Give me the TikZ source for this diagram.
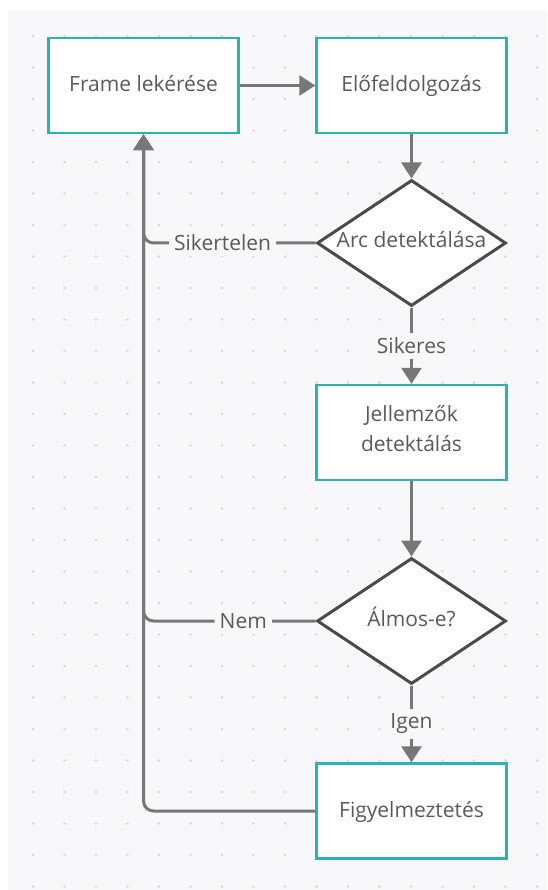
\documentclass[tikz,border=0pt]{standalone}
\usepackage{fontspec}
\setmainfont{Open Sans}
\usetikzlibrary{shapes.geometric,arrows.meta}
\definecolor{panel}{HTML}{F8F8FA}
\definecolor{griddot}{HTML}{D6D6DA}
\definecolor{boxline}{HTML}{2BB3AF}
\definecolor{edgeline}{HTML}{777777}
\definecolor{dialine}{HTML}{4A4A4A}
\definecolor{txt}{HTML}{5A5A5A}
\begin{document}
\begin{tikzpicture}[x=1pt,y=-1pt,
  font=\fontsize{21}{30}\selectfont,
  box/.style={draw=boxline,line width=2.5pt,fill=white,minimum width=190pt,minimum height=95pt,inner sep=0pt,text=txt,align=center,execute at begin node=\strut},
  decision/.style={diamond,aspect=1.5,draw=dialine,line width=3pt,fill=white,minimum width=189pt,minimum height=126pt,inner sep=0pt,text=txt,text height=15pt,text depth=5pt},
  edge/.style={draw=edgeline,line width=3pt,-{Triangle[length=16pt,width=20pt]}},
  back/.style={edge,rounded corners=10pt},
  lbl/.style={fill=panel,text=txt,inner sep=5pt}]
\useasboundingbox (0,0) rectangle (547,890);
\fill[white] (0,0) rectangle (547,890);
\fill[panel] (8,10) rectangle (547,890);
\foreach \i in {0,...,16}
  \foreach \j in {0,...,27}
    \fill[griddot] (33+31.5*\i,36+31.5*\j) circle (1.3pt);

\node[box] (frame) at (143.5,85.5) {Frame lekérése};
\node[box] (elo) at (411.5,85.5) {Előfeldolgozás};
\node[decision] (arc) at (411.5,243) {Arc detektálása};
\node[box] (jell) at (411.5,432.5) {Jellemzők\\detektálás};
\node[decision] (almos) at (411.5,621) {Álmos-e?};
\node[box] (fig) at (411.5,811) {Figyelmeztetés};

\draw[edge] (frame) -- (elo);
\draw[edge] (elo) -- (arc);
\draw[edge] (arc) -- node[lbl]{Sikeres} (jell);
\draw[edge] (jell) -- (almos);
\draw[edge] (almos) -- node[lbl]{Igen} (fig);
\draw[back] (fig.west) -| (frame.south);
\draw[back] (arc.west) -| node[lbl,pos=0.27]{Sikertelen} (frame.south);
\draw[back] (almos.west) -| node[lbl,pos=0.21]{Nem} (frame.south);
\end{tikzpicture}
\end{document}
